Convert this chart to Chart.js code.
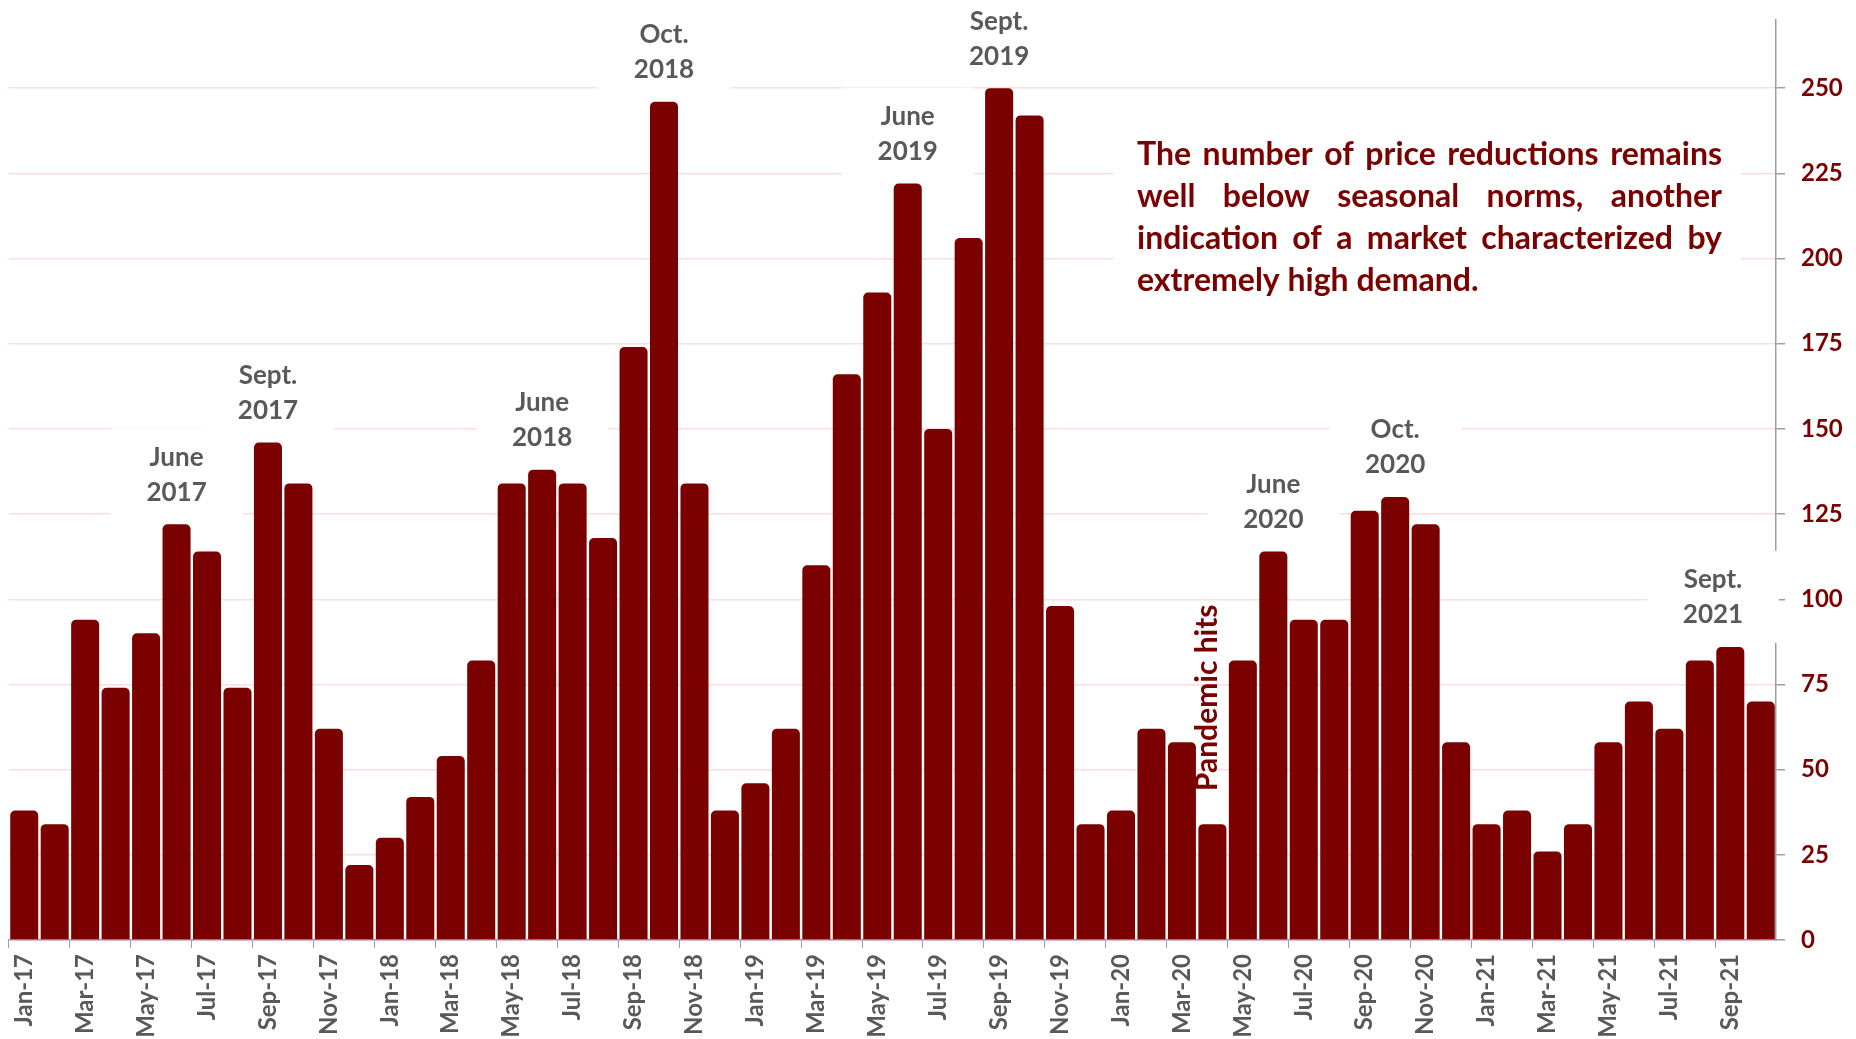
<!DOCTYPE html>
<html>
<head>
<meta charset="utf-8">
<script src="https://cdn.jsdelivr.net/npm/chart.js@4.4.0/dist/chart.umd.min.js"></script>
<style>
    html, body { margin: 0; padding: 0; background: #fff; }
    #wrap { width: 1856px; height: 1039px; position: relative; }
</style>
</head>
<body>
<div id="wrap"><canvas id="reductionsChart"></canvas></div>
<script>
// months shown on the x axis
const monthLabels = [
    'Jan-17', 'Feb-17', 'Mar-17', 'Apr-17', 'May-17', 'Jun-17', 'Jul-17', 'Aug-17', 'Sep-17', 'Oct-17', 'Nov-17', 'Dec-17',
    'Jan-18', 'Feb-18', 'Mar-18', 'Apr-18', 'May-18', 'Jun-18', 'Jul-18', 'Aug-18', 'Sep-18', 'Oct-18', 'Nov-18', 'Dec-18',
    'Jan-19', 'Feb-19', 'Mar-19', 'Apr-19', 'May-19', 'Jun-19', 'Jul-19', 'Aug-19', 'Sep-19', 'Oct-19', 'Nov-19', 'Dec-19',
    'Jan-20', 'Feb-20', 'Mar-20', 'Apr-20', 'May-20', 'Jun-20', 'Jul-20', 'Aug-20', 'Sep-20', 'Oct-20', 'Nov-20', 'Dec-20',
    'Jan-21', 'Feb-21', 'Mar-21', 'Apr-21', 'May-21', 'Jun-21', 'Jul-21', 'Aug-21', 'Sep-21', 'Oct-21'
];

// number of price reductions per month
const priceReductions = [
    38, 34, 94, 74, 90, 122, 114, 74, 146, 134, 62, 22,
    30, 42, 54, 82, 134, 138, 134, 118, 174, 246, 134, 38,
    46, 62, 110, 166, 190, 222, 150, 206, 250, 242, 98, 34,
    38, 62, 58, 34, 82, 114, 94, 94, 126, 130, 122, 58,
    34, 38, 26, 34, 58, 70, 62, 82, 86, 70
];

// right axis ticks
const yTickValues = [0, 25, 50, 75, 100, 125, 150, 175, 200, 225, 250];
const yMax = 270;

// labels above the seasonal peaks
const callouts = [
    { month: 'Jun-17', lines: ['June', '2017'] },
    { month: 'Sep-17', lines: ['Sept.', '2017'] },
    { month: 'Jun-18', lines: ['June', '2018'] },
    { month: 'Oct-18', lines: ['Oct.', '2018'] },
    { month: 'Jun-19', lines: ['June', '2019'] },
    { month: 'Sep-19', lines: ['Sept.', '2019'] },
    { month: 'Jun-20', lines: ['June', '2020'] },
    { month: 'Oct-20', lines: ['Oct.', '2020'] },
    { month: 'Sep-21', lines: ['Sept.', '2021'] }
];

const pandemicMonth = 'Apr-20';
const pandemicText = 'Pandemic hits';

const noteLines = [
    'The number of price reductions remains',
    'well below seasonal norms, another',
    'indication of a market characterized by',
    'extremely high demand.'
];

const BAR_COLOR = '#7b0000';
const GRAY_TEXT = '#595959';

/**
 * Place the callout boxes over the bars
 */
function calloutBoxes(chart) {
    const meta = chart.getDatasetMeta(0);
    const area = chart.chartArea;
    const boxW = 132, boxH = 92;
    return callouts.map(c => {
        const bar = meta.data[monthLabels.indexOf(c.month)];
        let cx = bar.x;
        if (cx + boxW / 2 > area.right + 3) cx = area.right + 3 - boxW / 2;
        const cy = bar.y - 50;
        return { cx, cy, w: boxW, h: boxH, lines: c.lines };
    });
}

function drawJustified(ctx, lines, left, width, firstY, pitch) {
    lines.forEach((line, li) => {
        const y = firstY + li * pitch;
        const words = line.split(' ');
        ctx.textAlign = 'left';
        if (li === lines.length - 1 || words.length < 2) {
            ctx.fillText(line, left, y);
            return;
        }
        const total = words.reduce((s, w) => s + ctx.measureText(w).width, 0);
        const gap = (width - total) / (words.length - 1);
        let x = left;
        words.forEach(w => {
            ctx.fillText(w, x, y);
            x += ctx.measureText(w).width + gap;
        });
    });
}

const annotationPlugin = {
    id: 'annotations',
    beforeDatasetsDraw(chart) {
        const ctx = chart.ctx;
        ctx.save();
        ctx.fillStyle = '#ffffff';
        calloutBoxes(chart).forEach(b => {
            ctx.fillRect(b.cx - b.w / 2, b.cy - b.h / 2, b.w, b.h);
        });
        // box behind the note text
        ctx.fillRect(1113, 118, 628, 200);
        ctx.restore();
    },
    afterDatasetsDraw(chart) {
        const ctx = chart.ctx;
        ctx.save();

        // seasonal peak labels
        ctx.font = 'bold 26px Lato';
        ctx.fillStyle = GRAY_TEXT;
        ctx.textAlign = 'center';
        ctx.textBaseline = 'middle';
        calloutBoxes(chart).forEach(b => {
            ctx.fillText(b.lines[0], b.cx, b.cy - 17);
            ctx.fillText(b.lines[1], b.cx, b.cy + 18);
        });

        // note text, justified
        let size = 32;
        ctx.font = 'bold ' + size + 'px Lato';
        while (Math.max(...noteLines.map(l => ctx.measureText(l).width)) > 578 && size > 20) {
            size -= 0.5;
            ctx.font = 'bold ' + size + 'px Lato';
        }
        ctx.fillStyle = BAR_COLOR;
        drawJustified(ctx, noteLines, 1137, 585, 155, 42);

        // pandemic marker
        const meta = chart.getDatasetMeta(0);
        const bar = meta.data[monthLabels.indexOf(pandemicMonth)];
        ctx.translate(bar.x - 5, bar.y - 33);
        ctx.rotate(-Math.PI / 2);
        ctx.font = 'bold 30px Lato';
        ctx.textAlign = 'left';
        ctx.textBaseline = 'middle';
        ctx.fillText(pandemicText, 0, 0);

        ctx.restore();
    }
};

function initReductionsChart() {
    const ctx = document.getElementById('reductionsChart');
    if (!ctx) return;

    new Chart(ctx.getContext('2d'), {
        type: 'bar',
        data: {
            labels: monthLabels,
            datasets: [{
                data: priceReductions,
                backgroundColor: BAR_COLOR,
                borderWidth: 0,
                borderRadius: { topLeft: 5, topRight: 5 },
                borderSkipped: 'bottom',
                barPercentage: 0.92,
                categoryPercentage: 1
            }]
        },
        options: {
            responsive: true,
            maintainAspectRatio: false,
            animation: false,
            layout: {
                padding: { left: 9, top: 20, right: 0, bottom: 0 }
            },
            plugins: {
                legend: { display: false },
                tooltip: { enabled: false }
            },
            scales: {
                x: {
                    offset: true,
                    grid: {
                        offset: true,
                        drawOnChartArea: false,
                        tickLength: 8,
                        tickColor: function(c) {
                            return c.index % 2 === 0 ? '#9e9e9e' : 'rgba(0,0,0,0)';
                        }
                    },
                    border: { color: '#9e9e9e', width: 1.5 },
                    ticks: {
                        autoSkip: false,
                        maxRotation: 90,
                        minRotation: 90,
                        padding: 6,
                        color: GRAY_TEXT,
                        font: { family: 'Lato', weight: 'bold', size: 24 },
                        callback: function(value, index) {
                            return index % 2 === 0 ? monthLabels[index] : '';
                        }
                    },
                    afterFit: function(scale) {
                        scale.height = 99;
                        scale.paddingLeft = 0;
                        scale.paddingRight = 0;
                    }
                },
                y: {
                    position: 'right',
                    min: 0,
                    max: yMax,
                    grid: {
                        color: '#fcdede',
                        lineWidth: 1.5,
                        tickLength: 9,
                        tickColor: '#9e9e9e'
                    },
                    border: { color: '#9e9e9e', width: 1.5 },
                    ticks: {
                        padding: 16,
                        color: BAR_COLOR,
                        font: { family: 'Lato', weight: 'bold', size: 24 }
                    },
                    afterBuildTicks: function(scale) {
                        scale.ticks = yTickValues.map(v => ({ value: v }));
                    },
                    afterFit: function(scale) {
                        scale.width = 80;
                        scale.paddingTop = 0;
                        scale.paddingBottom = 0;
                    }
                }
            }
        },
        plugins: [annotationPlugin]
    });
}

document.addEventListener('DOMContentLoaded', initReductionsChart);
</script>
</body>
</html>
